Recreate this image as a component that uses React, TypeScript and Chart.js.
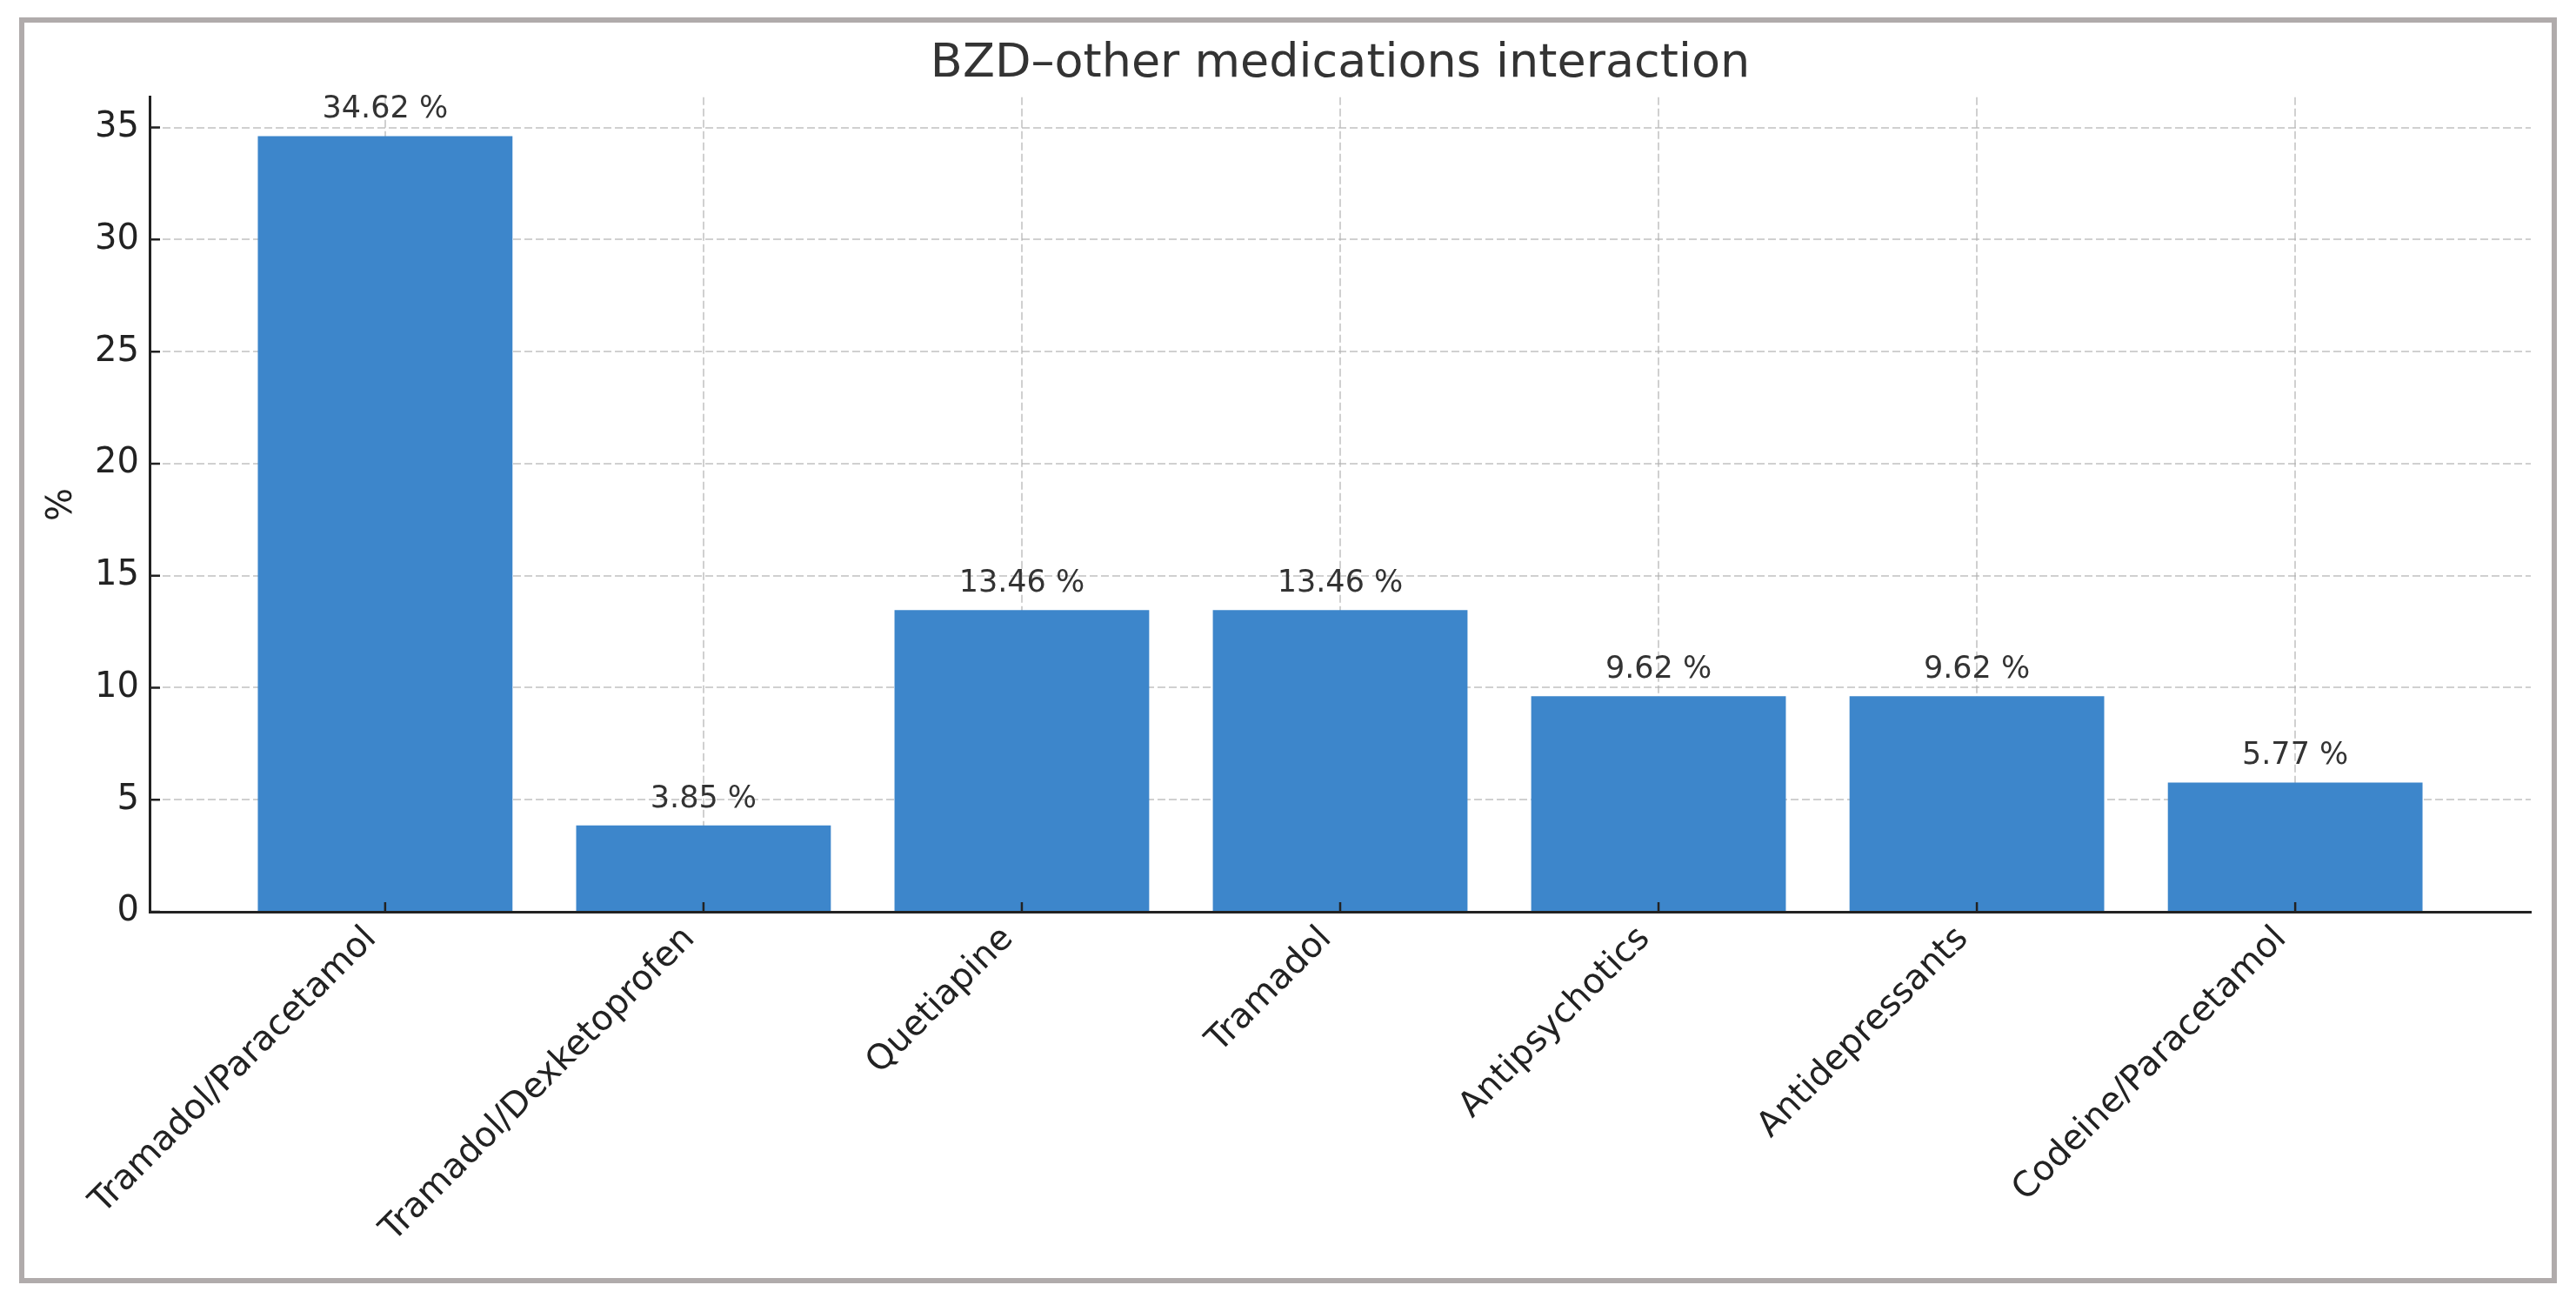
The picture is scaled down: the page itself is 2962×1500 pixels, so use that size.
import React, { useEffect, useRef } from "react";
import { Chart, registerables } from "chart.js";

Chart.register(...registerables);

const TITLE = "BZD\u2013other medications interaction";
const Y_TITLE = "%";
const categories = [
  "Tramadol/Paracetamol",
  "Tramadol/Dexketoprofen",
  "Quetiapine",
  "Tramadol",
  "Antipsychotics",
  "Antidepressants",
  "Codeine/Paracetamol",
];
const values = [34.62, 3.85, 13.46, 13.46, 9.62, 9.62, 5.77];
const yTicks = [0, 5, 10, 15, 20, 25, 30, 35];
const xMin = -0.74;
const xMax = 6.74;
const yMax = 36.351;

const FONT = "'DejaVu Sans', 'Liberation Sans', sans-serif";

export default function App() {
  const ref = useRef<HTMLCanvasElement | null>(null);

  useEffect(() => {
    if (!ref.current) return;

    const valueLabels = {
      id: "valueLabels",
      afterDraw(chart: any) {
        const ctx = chart.ctx;
        const meta = chart.getDatasetMeta(0);
        ctx.save();
        ctx.font = `35px ${FONT}`;
        ctx.fillStyle = "#333333";
        ctx.textAlign = "center";
        ctx.textBaseline = "alphabetic";
        meta.data.forEach((bar: any, i: number) => {
          ctx.fillText(`${values[i].toFixed(2)} %`, bar.x, bar.y - 21);
        });
        ctx.restore();
      },
    };

    const innerTicks = {
      id: "innerTicks",
      afterDraw(chart: any) {
        const ctx = chart.ctx;
        const xs = chart.scales.x;
        const ys = chart.scales.y;
        const area = chart.chartArea;
        ctx.save();
        ctx.strokeStyle = "#222222";
        ctx.lineWidth = 2.5;
        ctx.beginPath();
        yTicks.forEach((v) => {
          const py = ys.getPixelForValue(v);
          ctx.moveTo(area.left, py);
          ctx.lineTo(area.left + 12, py);
        });
        categories.forEach((_, i) => {
          const px = xs.getPixelForValue(i);
          ctx.moveTo(px, area.bottom);
          ctx.lineTo(px, area.bottom - 11);
        });
        ctx.stroke();
        ctx.restore();
      },
    };

    const chart = new Chart(ref.current, {
      type: "bar",
      data: {
        datasets: [
          {
            data: categories.map((_, i) => ({ x: i, y: values[i] })),
            backgroundColor: "rgb(61,134,203)",
            borderWidth: 0,
            barPercentage: 0.8,
            categoryPercentage: 1,
          },
        ],
      },
      options: {
        animation: false,
        responsive: false,
        devicePixelRatio: 1,
        layout: { padding: { left: 0, right: 52, top: 0, bottom: 0 } },
        plugins: {
          legend: { display: false },
          tooltip: { enabled: false },
          title: {
            display: true,
            text: TITLE,
            fullSize: false,
            color: "#333333",
            font: { family: FONT, size: 54, weight: "normal", lineHeight: 1.2 },
            padding: { top: 42, bottom: 5 },
          },
        },
        scales: {
          x: {
            type: "linear",
            min: xMin,
            max: xMax,
            offset: false,
            z: 1,
            afterBuildTicks: (axis: any) => {
              axis.ticks = categories.map((_, i) => ({ value: i }));
            },
            afterFit: (s: any) => {
              s.height = 452;
            },
            grid: {
              display: true,
              offset: false,
              drawTicks: false,
              color: "rgba(176,176,176,0.6)",
              lineWidth: 2,
            },
            border: { display: true, color: "#222222", width: 3, dash: [9, 4] },
            ticks: {
              autoSkip: false,
              minRotation: 45,
              maxRotation: 45,
              padding: 8,
              labelOffset: -16,
              color: "#222222",
              font: { family: FONT, size: 40 },
              callback: (v: any) => categories[Math.round(Number(v))] ?? "",
            },
          },
          y: {
            type: "linear",
            min: 0,
            max: yMax,
            z: 1,
            afterBuildTicks: (axis: any) => {
              axis.ticks = yTicks.map((v) => ({ value: v }));
            },
            afterFit: (s: any) => {
              s.width = 172;
            },
            grid: {
              display: true,
              offset: false,
              drawTicks: false,
              color: "rgba(176,176,176,0.6)",
              lineWidth: 2,
            },
            border: { display: true, color: "#222222", width: 3, dash: [9, 4] },
            ticks: {
              padding: 12,
              color: "#222222",
              font: { family: FONT, size: 40 },
              callback: (v: any) => String(v),
            },
            title: {
              display: true,
              text: Y_TITLE,
              color: "#222222",
              font: { family: FONT, size: 40, lineHeight: 1.2 },
              padding: { top: 48, bottom: 0 },
            },
          },
        },
      },
      plugins: [valueLabels, innerTicks],
    } as any);

    return () => chart.destroy();
  }, []);

  return (
    <div
      style={{
        position: "fixed",
        left: 0,
        top: 0,
        width: 2962,
        height: 1500,
        background: "#ffffff",
        overflow: "hidden",
      }}
    >
      <canvas
        ref={ref}
        width={2962}
        height={1500}
        style={{ position: "absolute", left: 0, top: 0, width: 2962, height: 1500 }}
      />
      <div
        style={{
          position: "absolute",
          left: 22,
          top: 20,
          width: 2918,
          height: 1455,
          border: "6px solid #b0abab",
          boxSizing: "border-box",
          pointerEvents: "none",
        }}
      />
    </div>
  );
}
